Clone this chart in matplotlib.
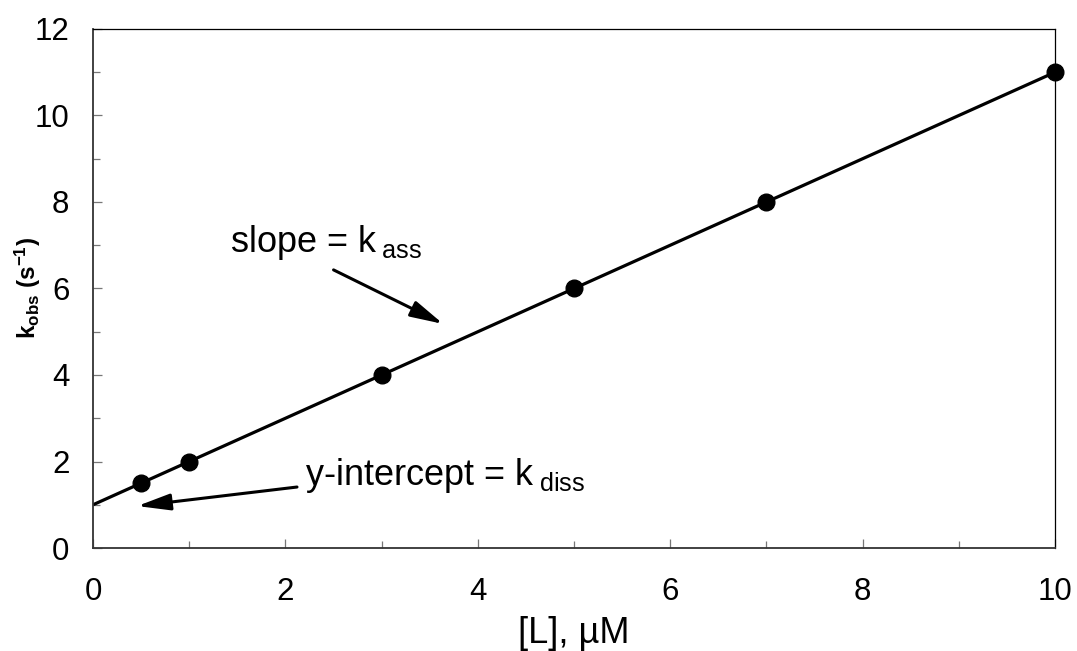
import numpy as np
import matplotlib
matplotlib.use("Agg")
import matplotlib.pyplot as plt
from matplotlib.patches import ArrowStyle

plt.rcParams['font.family'] = ['Liberation Sans', 'DejaVu Sans']
plt.rcParams['mathtext.default'] = 'regular'

# data
conc = [0.5, 1, 3, 5, 7, 10]          # [L], uM
kobs = [1.5, 2, 4, 6, 8, 11]          # k_obs, s^-1
x_ticks = [0, 2, 4, 6, 8, 10]
y_ticks = [0, 2, 4, 6, 8, 10, 12]

# linear fit
slope, intercept = np.polyfit(conc, kobs, 1)
fit_x = np.array([0, 10])
fit_y = slope * fit_x + intercept

fig = plt.figure(figsize=(10.77, 6.51), dpi=100)
ax = fig.add_axes([0.0864, 0.1582, 0.8932, 0.7973])

ax.plot(fit_x, fit_y, color='black', lw=2.3, solid_capstyle='butt', zorder=2)
ax.plot(conc, kobs, 'o', color='black', ms=12, clip_on=False, zorder=3)

ax.set_xlim(0, 10)
ax.set_ylim(0, 12)
ax.set_xticks(x_ticks)
ax.set_yticks(y_ticks)
ax.set_xticks([1, 3, 5, 7, 9], minor=True)
ax.set_yticks([1, 3, 5, 7, 9, 11], minor=True)
ax.tick_params(which='major', direction='in', length=6.5, width=0.9, color='#777777')
ax.tick_params(which='minor', direction='in', length=5, width=0.9, color='#777777')
ax.tick_params(axis='x', which='major', labelsize=22.5, pad=21)
ax.tick_params(axis='y', which='major', labelsize=22.5, pad=17)

for s in ['left', 'bottom']:
    ax.spines[s].set_color('#333333')
    ax.spines[s].set_linewidth(1.3)
for s in ['top', 'right']:
    ax.spines[s].set_color('black')
    ax.spines[s].set_linewidth(0.9)

ax.set_xlabel('[L], µM', fontsize=26, labelpad=6)
ax.set_ylabel('k$_{obs}$ (s$^{-1}$)', fontsize=17.5, fontweight='bold', labelpad=-6)

arrow = dict(arrowstyle=ArrowStyle('-|>', head_length=2.0, head_width=0.5),
             color='black', lw=2.2, shrinkA=0, shrinkB=0, mutation_scale=10)
ax.annotate('', xy=(3.64, 5.18), xytext=(2.50, 6.43), arrowprops=arrow)
ax.annotate('', xy=(0.46, 0.97), xytext=(2.12, 1.41), arrowprops=arrow)

ax.text(1.42, 6.84, 'slope = k$\\,_{ass}$', fontsize=26, va='baseline', ha='left')
ax.text(2.20, 1.46, 'y-intercept = k$\\,_{diss}$', fontsize=26, va='baseline', ha='left')

fig.savefig('out.png', dpi=100)
